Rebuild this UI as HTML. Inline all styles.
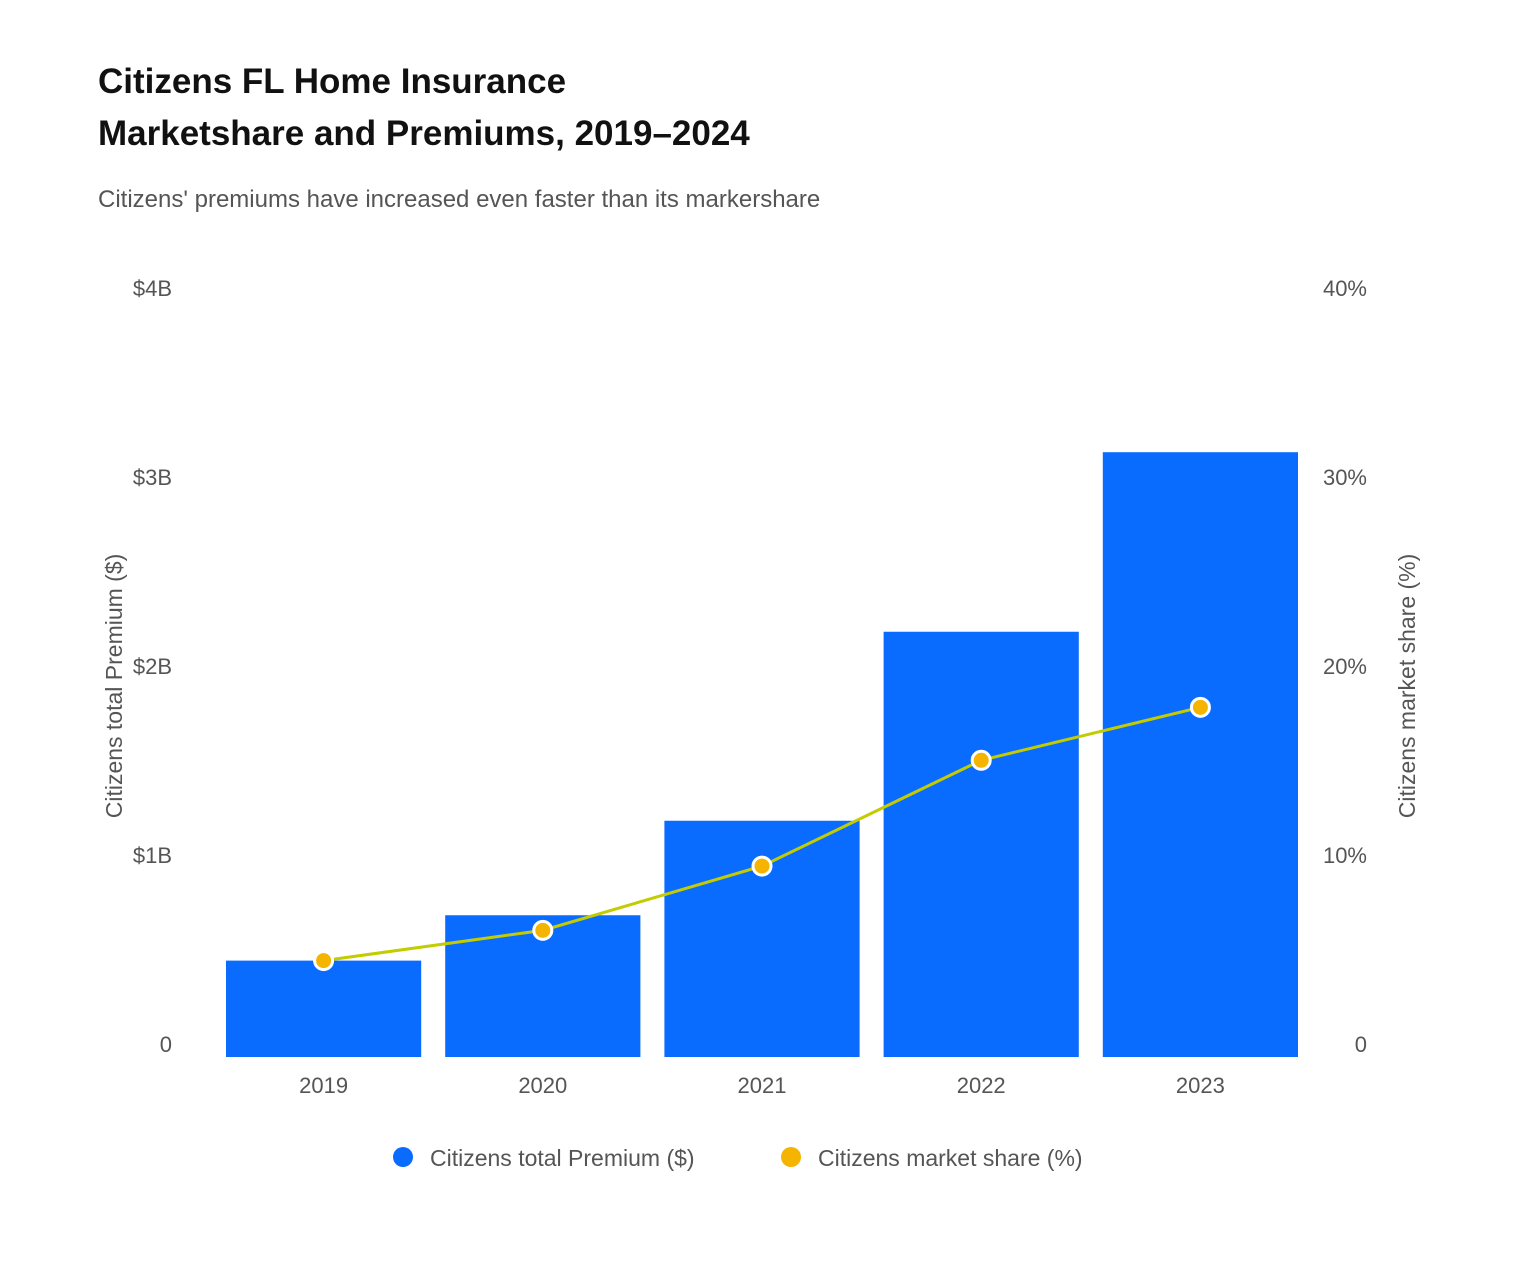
<!DOCTYPE html>
<html><head><meta charset="utf-8"><style>
body{margin:0;background:#fff;width:1520px;height:1260px;overflow:hidden;font-family:"Liberation Sans",sans-serif;}
svg text{font-family:"Liberation Sans",sans-serif;}
</style></head><body>
<svg id="chart" width="1520" height="1260" xmlns="http://www.w3.org/2000/svg">
<text x="98" y="93" font-size="35" font-weight="bold" fill="#111">Citizens FL Home Insurance</text>
<text x="98" y="145" font-size="35" font-weight="bold" fill="#111">Marketshare and Premiums, 2019–2024</text>
<text x="98" y="207" font-size="24" fill="#555">Citizens' premiums have increased even faster than its markershare</text>
<text transform="translate(122,686) rotate(-90)" text-anchor="middle" font-size="23" fill="#555">Citizens total Premium ($)</text>
<text transform="translate(1415,686) rotate(-90)" text-anchor="middle" font-size="23" fill="#555">Citizens market share (%)</text>
<g id="ticks"></g><g id="bars"></g><g id="line"></g><g id="xlabels"></g>
<g>
<g><circle cx="403" cy="1157" r="10" fill="#0a6cff"/><text x="430" y="1166" font-size="23" fill="#555">Citizens total Premium ($)</text></g>
<g><circle cx="791" cy="1157" r="10" fill="#f5b400"/><text x="818" y="1166" font-size="23" fill="#555">Citizens market share (%)</text></g>
</g>
</svg>
<script>
const categories=["2019","2020","2021","2022","2023"];
const premiums=[0.51,0.75,1.25,2.25,3.2];
const marketShare=[5.1,6.7,10.1,15.7,18.5];
const leftTicks=[0,1,2,3,4];
const leftTickLabels=["0","$1B","$2B","$3B","$4B"];
const rightTicks=[0,10,20,30,40];
const rightTickLabels=["0","10%","20%","30%","40%"];
const NS="http://www.w3.org/2000/svg";
const plotL=214,plotR=1310,base=1057,top0=301;
const yL=v=>base-(base-top0)*v/4;
const yR=v=>base-(base-top0)*v/40;
const band=(plotR-plotL)/categories.length;
const xC=i=>plotL+band*(i+0.5);
function mk(tag,attrs,parent){const e=document.createElementNS(NS,tag);for(const k in attrs)e.setAttribute(k,attrs[k]);document.getElementById(parent).appendChild(e);return e;}
leftTicks.forEach((t,i)=>{const e=mk('text',{x:172,y:yL(t)-5,'text-anchor':'end','font-size':22,fill:'#555'},'ticks');e.textContent=leftTickLabels[i];

});
rightTicks.forEach((t,i)=>{const e=mk('text',{x:1367,y:rightTicks[i]===0?yR(t)-5:yR(t)-5,'text-anchor':'end','font-size':22,fill:'#555'},'ticks');e.textContent=rightTickLabels[i];

});
premiums.forEach((v,i)=>{const w=band-24;const r=mk('rect',{x:xC(i)-w/2,y:yL(v),width:w,height:base-yL(v),fill:'#0a6cff'},'bars');

});
const pts=marketShare.map((v,i)=>xC(i)+','+yR(v)).join(' ');
const pl=mk('polyline',{points:pts,fill:'none',stroke:'#c3cc00','stroke-width':3},'line');


marketShare.forEach((v,i)=>{const c=mk('circle',{cx:xC(i),cy:yR(v),r:9,fill:'#f5b400',stroke:'#fff','stroke-width':3},'line');

});
categories.forEach((c,i)=>{const e=mk('text',{x:xC(i),y:1093,'text-anchor':'middle','font-size':22,fill:'#555'},'xlabels');e.textContent=c;

});
</script>
</body></html>
